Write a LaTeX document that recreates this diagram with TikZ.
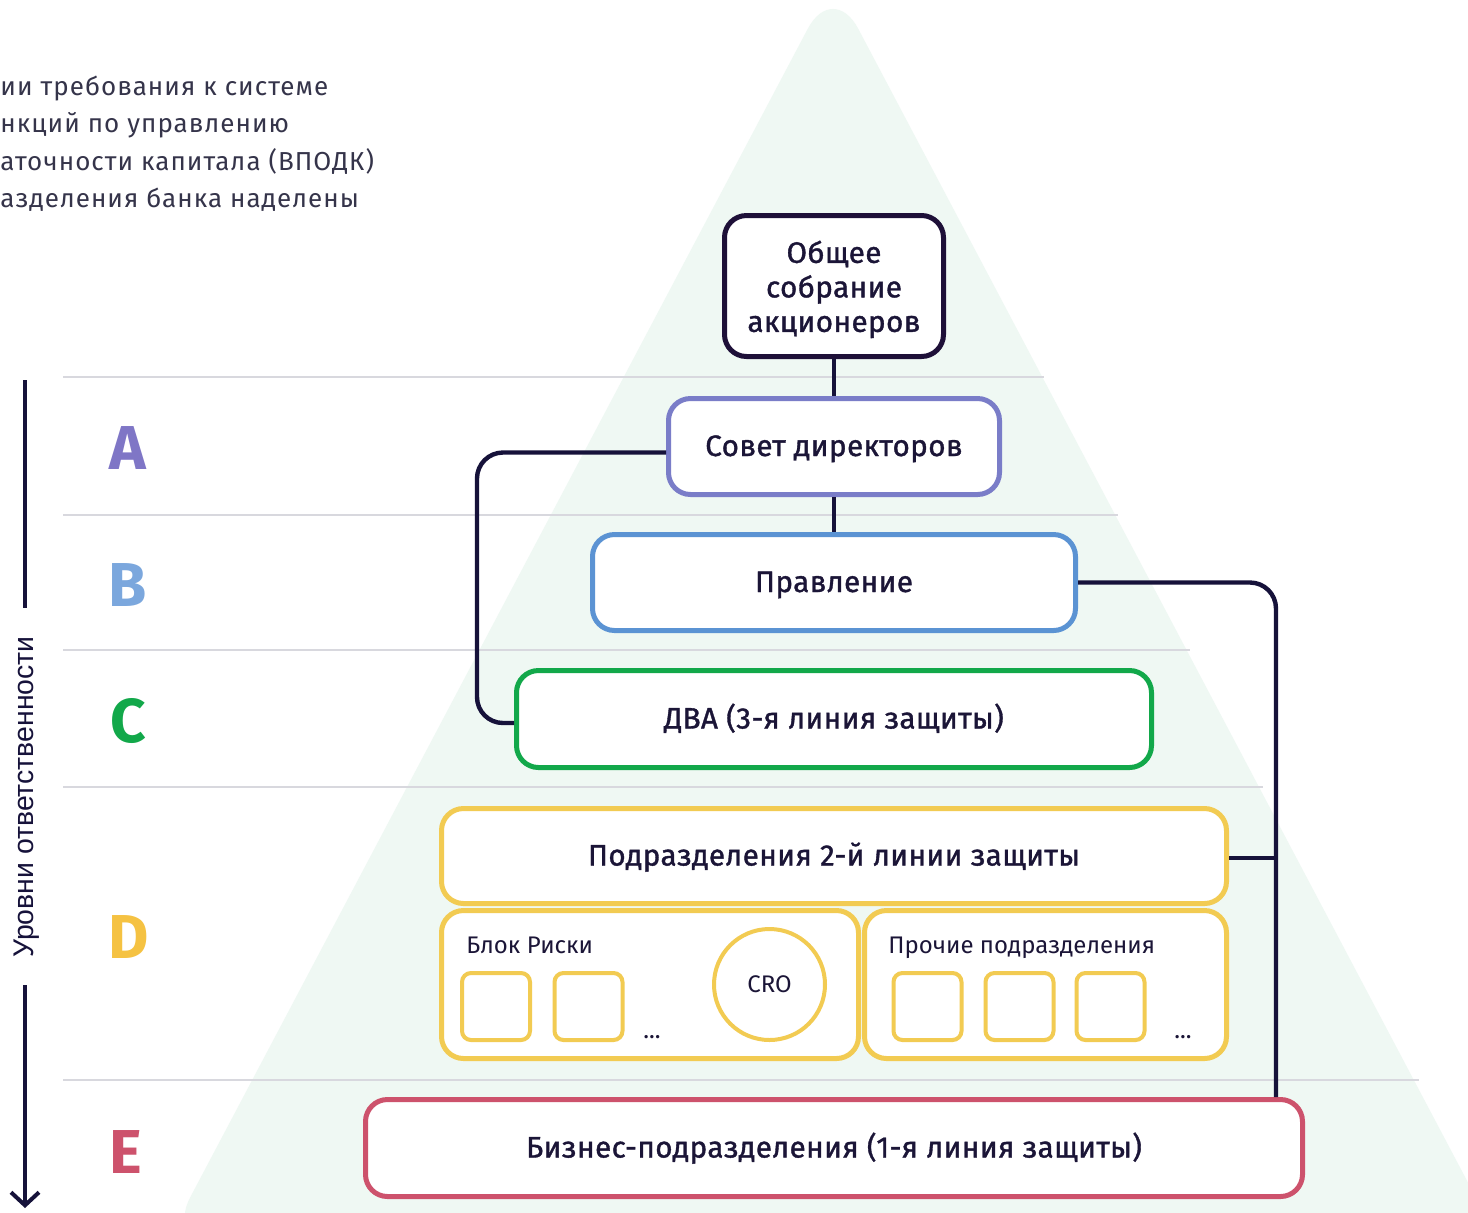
\documentclass[tikz,border=0pt]{standalone}
\usepackage{fontspec}
\setmainfont{Fira Sans}
\newfontfamily\boxfont[FakeBold=1.2,LetterSpace=1.5]{Fira Sans}
\newfontfamily\introfont[LetterSpace=4]{Fira Sans}
\newfontfamily\axisfont{Liberation Sans}
\usetikzlibrary{arrows.meta}
\definecolor{ink}{HTML}{1B1537}
\definecolor{connc}{HTML}{16123A}
\definecolor{topc}{HTML}{1E1038}
\definecolor{cA}{HTML}{7F76C6}
\definecolor{cAb}{HTML}{7A7DC8}
\definecolor{cB}{HTML}{7BA7DD}
\definecolor{cBb}{HTML}{5B93D3}
\definecolor{cC}{HTML}{12A84A}
\definecolor{cD}{HTML}{F5C242}
\definecolor{cDb}{HTML}{F2CB52}
\definecolor{cE}{HTML}{CD526C}
\definecolor{tri}{HTML}{EFF8F3}
\definecolor{gridc}{HTML}{D8D8DE}
\definecolor{greyt}{HTML}{35344A}
\begin{document}
\begin{tikzpicture}[x=0.5pt,y=-0.5pt,
  bigbox/.style={draw=#1, line width=2.5pt, rounded corners=11pt, fill=white,
    inner sep=0pt, text=ink, font=\boxfont\fontsize{14.8}{17.25}\selectfont},
  onel/.style={text height=0.95em, text depth=0pt},
  subbox/.style={draw=cDb, line width=2.5pt, rounded corners=11pt, fill=white, inner sep=0pt},
  smallsq/.style={draw=cDb, line width=2pt, rounded corners=4.5pt, fill=white,
    minimum width=34pt, minimum height=33.5pt, inner sep=0pt},
  gridln/.style={draw=gridc, line width=1pt},
  conn/.style={draw=connc, line width=2.2pt},
  lvl/.style={font=\bfseries\fontsize{31}{31}\selectfont, inner sep=0pt},
  smalltxt/.style={font=\fontsize{12}{13}\selectfont, text=ink, inner sep=0pt},
  introtxt/.style={font=\introfont\fontsize{13}{15}\selectfont, text=greyt, inner sep=0pt, anchor=base west}
]
\clip (0,0) rectangle (1468,1212);
\fill[white] (0,0) rectangle (1468,1212);
% background pyramid
\fill[tri, rounded corners=27pt] (833,-19) -- (165,1245) -- (1501,1245) -- cycle;
% grid lines
\draw[gridln] (63,377) -- (1044,377);
\draw[gridln] (63,515) -- (1118,515);
\draw[gridln] (63,650) -- (1190,650);
\draw[gridln] (63,787) -- (1263,787);
\draw[gridln] (63,1080) -- (1419,1080);
% intro text (cut off at the left)
\node[introtxt] (t1) at (0,95) {ии требования к системе};
\node[introtxt] (t2) at (0,132.5) {нкций по управлению};
\node[introtxt] (t3) at (0,170) {аточности капитала (ВПОДК)};
\node[introtxt] (t4) at (0,207.5) {азделения банка наделены};
% axis
\coordinate (ax1) at (25,380);
\coordinate (ax2) at (25,608);
\coordinate (ax3) at (25,985);
\coordinate (ax4) at (25,1208);
\draw[connc, line width=2pt] (ax1) -- (ax2);
\draw[connc, line width=2pt, -{Straight Barb[length=6.5pt,width=14pt,line width=2pt]}] (ax3) -- (ax4);
\node[rotate=90, text=connc, font=\axisfont\fontsize{14.2}{14}\selectfont, inner sep=0pt] (axl) at (27,797) {Уровни ответственности};
% level letters
\node[lvl, text=cA] (la) at (128,448) {A};
\node[lvl, text=cB] (lb) at (128,585) {B};
\node[lvl, text=cC] (lc) at (128,721) {C};
\node[lvl, text=cD] (ld) at (129,937) {D};
\node[lvl, text=cE] (le) at (126,1152) {E};
% boxes
\node[bigbox=topc, align=center, minimum width=109.5pt, minimum height=70.5pt] (general) at (834,286) {\rule{0pt}{14.5pt}Общее\\собрание\\акционеров};
\node[bigbox=cAb, onel, minimum width=165.5pt, minimum height=48pt] (board) at (834,446.5) {Совет директоров};
\node[bigbox=cBb, onel, minimum width=241.5pt, minimum height=48pt] (mgmt) at (834,582.5) {Правление};
\node[bigbox=cC, onel, minimum width=317.5pt, minimum height=48.5pt] (audit) at (834,719) {ДВА (3-я линия защиты)};
\node[bigbox=cDb, onel, minimum width=392.5pt, minimum height=47.5pt] (second) at (834,856) {Подразделения 2-й линии защиты};
\node[subbox, minimum width=208.5pt, minimum height=74pt] (risk) at (650,984.5) {};
\node[subbox, minimum width=181pt, minimum height=74pt] (other) at (1045.5,984.5) {};
\node[bigbox=cE, onel, minimum width=468.5pt, minimum height=48.5pt] (business) at (834,1148) {Бизнес-подразделения (1-я линия защиты)};
% inner content of the sub-boxes
\node[smalltxt, anchor=base west] (risklbl) at (466,953) {Блок Риски};
\node[smallsq] (rs1) at (496,1006.5) {};
\node[smallsq] (rs2) at (588.5,1006.5) {};
\node[smalltxt, anchor=base] (rdots) at (652,1038) {...};
\node[circle, draw=cDb, line width=2pt, fill=white, minimum size=55.5pt, inner sep=0pt, smalltxt] (cro) at (769.5,984.5) {CRO};
\node[smalltxt, anchor=base west] (otherlbl) at (888,953) {Прочие подразделения};
\node[smallsq] (os1) at (927.5,1006.5) {};
\node[smallsq] (os2) at (1019.5,1006.5) {};
\node[smallsq] (os3) at (1110.5,1006.5) {};
\node[smalltxt, anchor=base] (odots) at (1183,1038) {...};
% connectors
\coordinate (lx) at (477,0);
\coordinate (rx) at (1276,0);
\coordinate (bw) at ([yshift=-3pt]board.west);
\coordinate (aw) at ([yshift=-2pt]audit.west);
\coordinate (se) at ([yshift=-1pt]second.east);
\draw[conn] (general.south) -- (board.north);
\draw[conn] (board.south) -- (mgmt.north);
\draw[conn, rounded corners=13pt] (bw) -| (lx |- aw) -- (aw);
\draw[conn, rounded corners=13pt] (mgmt.east) -| (rx |- business.north);
\draw[conn] (se) -- (rx |- se);
\end{tikzpicture}
\end{document}
